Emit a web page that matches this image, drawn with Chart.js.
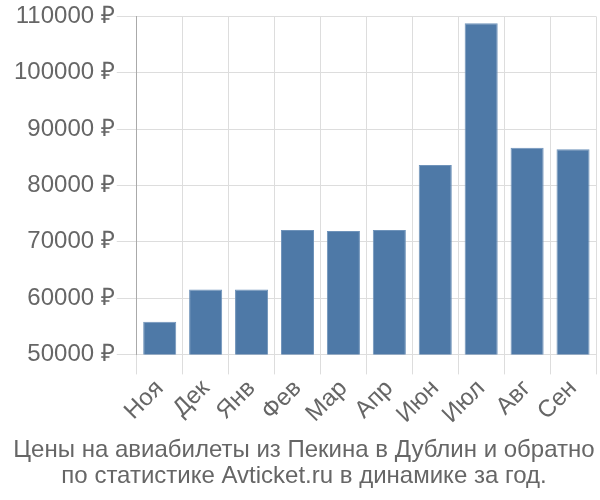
<!DOCTYPE html>
<html>
<head>
<meta charset="utf-8">
<script src="https://cdn.jsdelivr.net/npm/chart.js@4"></script>
<style>
  html, body { margin: 0; padding: 0; background: #fff; }
  #wrap { width: 600px; height: 500px; }
</style>
</head>
<body>
<div id="wrap"><canvas id="chart" width="600" height="500"></canvas></div>
<script>
// Месяцы и цены (руб.)
const months = ['Ноя', 'Дек', 'Янв', 'Фев', 'Мар', 'Апр', 'Июн', 'Июл', 'Авг', 'Сен'];
const prices = [55800, 61500, 61500, 72100, 71900, 72100, 83600, 108800, 86700, 86400];
const titleLines = [
    'Цены на авиабилеты из Пекина в Дублин и обратно',
    'по статистике Avticket.ru в динамике за год.'
];

const ctx = document.getElementById('chart').getContext('2d');

new Chart(ctx, {
    type: 'bar',
    data: {
        labels: months,
        datasets: [{
            data: prices,
            backgroundColor: '#4e79a7',
            borderColor: '#6f93ba',
            borderWidth: 1,
            barPercentage: 0.72,
            categoryPercentage: 1
        }]
    },
    options: {
        responsive: false,
        animation: false,
        layout: { padding: { left: 12, right: 4, top: 4, bottom: 0 } },
        plugins: {
            legend: { display: false },
            tooltip: { enabled: false },
            title: {
                display: true,
                position: 'bottom',
                text: titleLines,
                color: '#666',
                font: { family: 'Liberation Sans', size: 24, weight: 'normal', lineHeight: 1.1 },
                padding: { top: 8, bottom: 10 }
            }
        },
        scales: {
            x: {
                grid: { color: '#dddddd', tickLength: 20, offset: true },
                border: { color: '#dddddd' },
                ticks: {
                    color: '#666',
                    font: { family: 'Liberation Sans', size: 24 },
                    maxRotation: 45,
                    minRotation: 45,
                    padding: 0
                }
            },
            y: {
                min: 50000,
                max: 110000,
                grid: { color: '#dddddd', tickLength: 20 },
                border: { color: '#aaaaaa' },
                ticks: {
                    stepSize: 10000,
                    color: '#666',
                    font: { family: 'Liberation Sans', size: 24 },
                    padding: 2,
                    callback: v => v + ' ₽'
                }
            }
        }
    }
});
</script>
</body>
</html>
